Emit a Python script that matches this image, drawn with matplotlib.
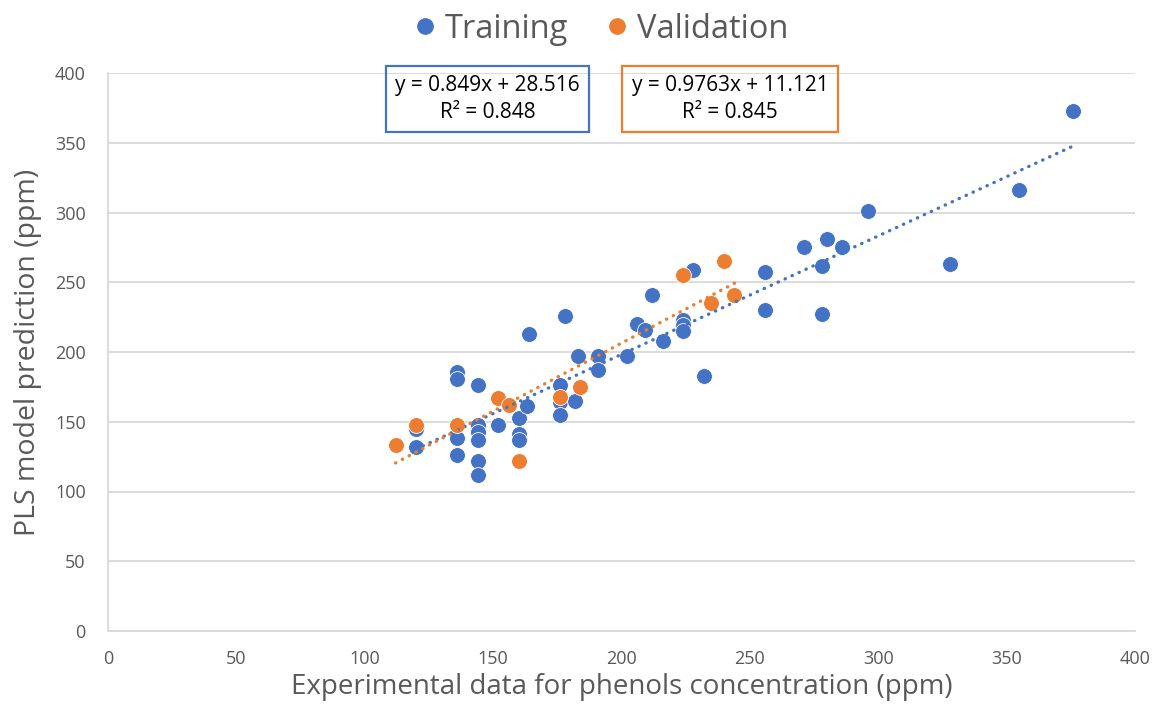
import numpy as np
import matplotlib
matplotlib.use("Agg")
import matplotlib.pyplot as plt
from matplotlib.patches import Rectangle
from matplotlib.lines import Line2D

plt.rcParams['font.family'] = ['Open Sans', 'DejaVu Sans']

# Training set: experimental vs. PLS predicted (ppm)
train_x = [120, 120, 136, 136, 136, 136, 144, 144, 144, 144, 144, 144,
           152, 160, 160, 160, 163, 164, 176, 176, 176, 178, 182, 183,
           191, 191, 202, 206, 209, 212, 216, 224, 224, 224, 228, 232,
           256, 256, 271, 278, 278, 280, 286, 296, 328, 355, 376]
train_y = [145, 132, 186, 181, 138, 126, 176, 148, 143, 137, 122, 112,
           148, 153, 141, 137, 161, 213, 176, 164, 155, 226, 165, 197,
           197, 187, 197, 220, 216, 241, 208, 223, 219, 215, 259, 183,
           257, 230, 275, 262, 227, 281, 275, 301, 263, 316, 373]

# Validation set
valid_x = [112, 120, 136, 152, 156, 160, 176, 184, 224, 235, 240, 244]
valid_y = [133, 148, 148, 167, 162, 122, 168, 175, 255, 235, 265, 241]

# Linear trendlines as reported
train_fit = (0.849, 28.516, 0.848)
valid_fit = (0.9763, 11.121, 0.845)

x_ticks = [0, 50, 100, 150, 200, 250, 300, 350, 400]
y_ticks = [0, 50, 100, 150, 200, 250, 300, 350, 400]

BLUE = '#4472C4'
ORANGE = '#ED7D31'
GREY_TXT = '#595959'
GRID = '#D9D9D9'

fig = plt.figure(figsize=(11.57, 7.11), dpi=100)
ax = fig.add_axes([108 / 1157, 80 / 711, 1027 / 1157, 558 / 711])

ax.scatter(train_x, train_y, s=130, color=BLUE, edgecolors='white',
           linewidths=0.6, zorder=3)
ax.scatter(valid_x, valid_y, s=130, color=ORANGE, edgecolors='white',
           linewidths=0.6, zorder=4)

# dotted trendlines over the data range
for xs, (m, b, _), c in [(train_x, train_fit, BLUE), (valid_x, valid_fit, ORANGE)]:
    xx = np.array([min(xs), max(xs)])
    ax.plot(xx, m * xx + b, color=c, lw=2.4, linestyle=(0, (0.1, 2.2)),
            dash_capstyle='round', zorder=5)

ax.set_xlim(0, 400)
ax.set_ylim(0, 400)
ax.set_xticks(x_ticks)
ax.set_yticks(y_ticks)
ax.tick_params(length=0, labelsize=13, labelcolor=GREY_TXT)
ax.tick_params(axis='y', pad=16)
ax.tick_params(axis='x', pad=14)
ax.yaxis.grid(True, color=GRID, lw=1.3)
ax.set_axisbelow(True)
for side in ['top', 'right']:
    ax.spines[side].set_visible(False)
for side in ['left', 'bottom']:
    ax.spines[side].set_color(GRID)
    ax.spines[side].set_linewidth(1.3)

ax.set_xlabel('Experimental data for phenols concentration (ppm)',
              fontsize=20, color=GREY_TXT, labelpad=3)
ax.set_ylabel('PLS model prediction (ppm)', fontsize=20.5, color=GREY_TXT,
              labelpad=9)

# legend across the top
handles = [Line2D([], [], marker='o', ls='', color=BLUE, markersize=11),
           Line2D([], [], marker='o', ls='', color=ORANGE, markersize=11)]
leg = fig.legend(handles, ['Training', 'Validation'], loc='center',
                 bbox_to_anchor=(597 / 1157, 1 - 29 / 711), ncol=2,
                 frameon=False, fontsize=23.5, handletextpad=0.0,
                 columnspacing=0.9, handlelength=1.2)
for t in leg.get_texts():
    t.set_color(GREY_TXT)


# equation boxes
def eq_box(x0, x1, y0, y1, color, fit):
    W, H = 1157, 711
    fig.patches.append(Rectangle((x0 / W, 1 - y1 / H), (x1 - x0) / W,
                                 (y1 - y0) / H, transform=fig.transFigure,
                                 fill=False, edgecolor=color, lw=1.6))
    m, b, r2 = fit
    fig.text((x0 + x1) / 2 / W, 1 - (y0 + y1) / 2 / H,
             f'y = {m}x + {b}\nR² = {r2}', ha='center', va='center',
             ma='center', fontsize=15, color='black', linespacing=1.4)


eq_box(386, 589, 66, 132, BLUE, train_fit)
eq_box(622, 838, 66, 132, ORANGE, valid_fit)

fig.savefig('out.png', dpi=100, facecolor='white')
